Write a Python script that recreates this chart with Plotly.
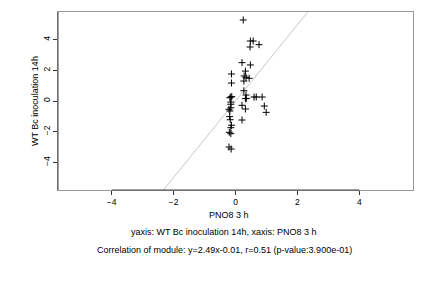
import plotly.graph_objects as go

x_vals = [0.25, 0.48, 0.57, 0.47, 0.76, 0.21, 0.48, -0.13, 0.32, 0.28, 0.34, 0.44,
          0.27, -0.13, 0.27, 0.34, 0.35, 0.32, 0.60, 0.67, 0.86, -0.15, -0.12, -0.18,
          -0.15, -0.15, 0.21, 0.32, 0.93, 0.99, -0.21, -0.18, -0.15, -0.19, -0.17,
          0.21, -0.13, -0.15, -0.20, -0.15, -0.21, -0.14]
y_vals = [5.28, 3.91, 3.91, 3.52, 3.67, 2.50, 2.35, 1.76, 1.95, 1.63, 1.54, 1.48,
          1.30, 1.17, 0.67, 0.39, 0.17, 0.15, 0.26, 0.26, 0.26, 0.26, 0.28, 0.21,
          -0.07, -0.21, -0.28, -0.52, -0.33, -0.74, -0.54, -0.65, -0.44, -1.02, -1.22,
          -1.24, -1.58, -1.74, -2.04, -2.13, -3.00, -3.13]
slope, intercept = 2.49, -0.01
x_range = [-5.73, 5.73]
y_range = [-5.8, 5.8]
ticks = [-4, -2, 0, 2, 4]
x_title = "PNO8 3 h"
y_title = "WT Bc inoculation 14h"
sub1 = "yaxis: WT Bc inoculation 14h, xaxis: PNO8 3 h"
sub2 = "Correlation of module: y=2.49x-0.01, r=0.51 (p-value:3.900e-01)"

FAM = "Liberation Sans, Arial, sans-serif"
font = dict(family=FAM, size=9, color="black")
tfont = dict(family=FAM, size=8.5, color="black")

fig = go.Figure()
lx = [(y_range[0] - intercept) / slope, (y_range[1] - intercept) / slope]
ly = [slope * v + intercept for v in lx]
fig.add_trace(go.Scatter(x=lx, y=ly, mode="lines",
                         line=dict(color="#c8c8c8", width=1), hoverinfo="skip"))
fig.add_trace(go.Scatter(x=x_vals, y=y_vals, mode="markers",
                         marker=dict(symbol="cross-thin", size=5,
                                     line=dict(color="black", width=1))))

fig.update_layout(
    width=432, height=288, showlegend=False,
    margin=dict(l=58, r=19, t=12, b=98),
    paper_bgcolor="white", plot_bgcolor="white", font=font,
)
fig.update_xaxes(range=x_range, tickvals=ticks, ticks="outside", ticklen=4,
                 tickcolor="#333", showgrid=False, zeroline=False,
                 showline=True, linecolor="#999", linewidth=1, mirror=True,
                 tickfont=tfont)
fig.update_yaxes(range=y_range, tickvals=ticks, ticks="outside", ticklen=4,
                 tickcolor="#333", showgrid=False, zeroline=False,
                 showline=True, linecolor="#999", linewidth=1, mirror=True,
                 tickangle=-90, tickfont=tfont)
fig.add_shape(type="line", xref="x", yref="paper", x0=ticks[0], x1=ticks[-1], y0=0, y1=0,
              line=dict(color="#444", width=1))
fig.add_shape(type="line", xref="paper", yref="y", x0=0, x1=0, y0=y_range[0], y1=y_range[1],
              line=dict(color="#444", width=1))

def ypaper(py):
    return (190 - py) / 178.0

def xpaper(px):
    return (px - 58) / 355.0

fig.add_annotation(text=x_title, xref="paper", yref="paper", x=xpaper(229), y=ypaper(215),
                   showarrow=False, font=font, yanchor="middle")
fig.add_annotation(text=sub1, xref="paper", yref="paper", x=xpaper(223), y=ypaper(232),
                   showarrow=False, font=font, yanchor="middle")
fig.add_annotation(text=sub2, xref="paper", yref="paper", x=xpaper(224), y=ypaper(250),
                   showarrow=False, font=font, yanchor="middle")
fig.add_annotation(text=y_title, xref="paper", yref="paper", x=xpaper(35), y=0.5,
                   showarrow=False, font=font, textangle=-90, xanchor="center")

fig.write_html("out.html")
